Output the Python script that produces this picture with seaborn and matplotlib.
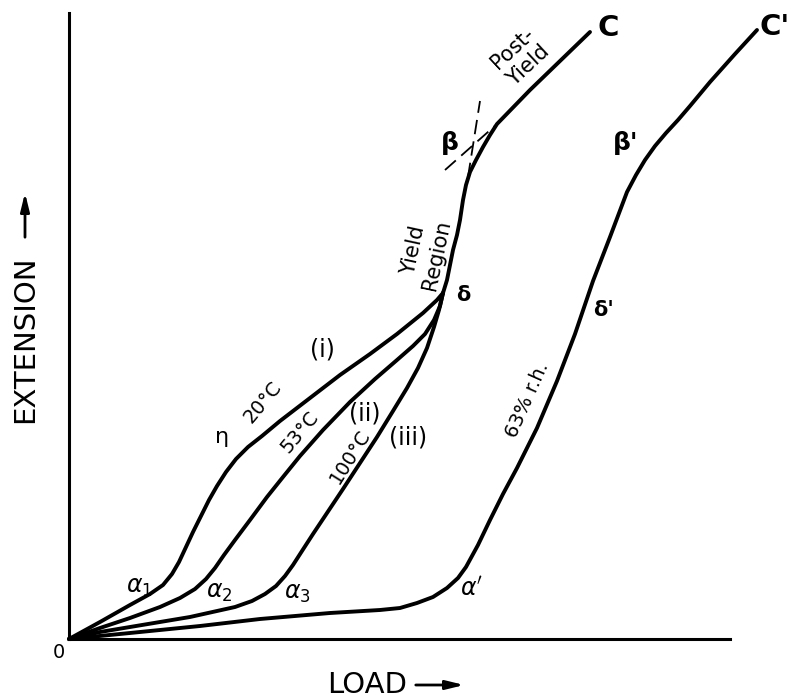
import matplotlib
matplotlib.use("Agg")
import matplotlib.pyplot as plt
import seaborn as sns
import pandas as pd

# ---- data (arbitrary units: load, extension) ----
curve_i_load = [0, 31, 61, 81, 94, 103, 110, 117, 124, 132, 140, 148, 157, 167, 179, 193, 211, 241, 271, 301, 328, 354, 368, 374]
curve_i_ext = [0, 17, 34, 45, 54, 65, 77, 92, 107, 123, 139, 153, 167, 180, 192, 203, 218, 241, 264, 285, 305, 326, 339, 346]

curve_ii_load = [0, 31, 61, 91, 111, 126, 137, 146, 155, 166, 181, 198, 214, 231, 254, 281, 306, 328, 344, 356, 365, 371, 374]
curve_ii_ext = [0, 11, 21, 32, 41, 50, 60, 71, 84, 99, 119, 142, 162, 183, 209, 237, 260, 279, 293, 305, 319, 333, 346]

curve_iii_load = [0, 31, 61, 91, 121, 148, 166, 183, 196, 207, 216, 224, 233, 244, 258, 274, 291, 308, 324, 338, 349, 358, 365, 370, 374]
curve_iii_ext = [0, 7, 12, 17, 22, 28, 32, 38, 45, 53, 63, 74, 88, 105, 126, 150, 176, 202, 228, 251, 271, 291, 312, 329, 346]

common_load = [374, 378, 381, 384, 388, 391, 394, 397, 401, 407, 414, 421, 428, 461, 491, 521]
common_ext = [346, 359, 374, 389, 404, 419, 439, 454, 467, 479, 492, 504, 515, 549, 578, 607]

wet_load = [0, 61, 131, 191, 261, 311, 331, 348, 364, 378, 389, 397, 409, 421, 434, 448, 468, 488, 506, 524, 541, 558, 567, 576, 586, 597, 609, 621, 641, 666, 688]
wet_ext = [0, 6, 13, 20, 26, 29, 31, 36, 42, 51, 61, 72, 94, 119, 145, 171, 211, 258, 305, 358, 402, 447, 464, 479, 493, 506, 519, 533, 557, 585, 609]

tangent_a_load = [376, 428]
tangent_a_ext = [469, 515]
tangent_b_load = [399, 411]
tangent_b_ext = [462, 538]

sns.set_theme(style="white")
plt.rcParams['font.family'] = ['DejaVu Sans']
plt.rcParams['text.color'] = 'black'

fig = plt.figure(figsize=(7.91, 6.98), dpi=100)
ax = fig.add_axes([69 / 791, 59 / 698, 661 / 791, 626 / 698])

LW = 2.8
for xs, ys in [(curve_i_load, curve_i_ext), (curve_ii_load, curve_ii_ext),
               (curve_iii_load, curve_iii_ext), (common_load, common_ext),
               (wet_load, wet_ext)]:
    df = pd.DataFrame({"load": xs, "ext": ys})
    sns.lineplot(data=df, x="load", y="ext", sort=False, estimator=None,
                 color="black", lw=LW, ax=ax, solid_capstyle="round",
                 solid_joinstyle="round")

for xs, ys in [(tangent_a_load, tangent_a_ext), (tangent_b_load, tangent_b_ext)]:
    df = pd.DataFrame({"load": xs, "ext": ys})
    sns.lineplot(data=df, x="load", y="ext", sort=False, estimator=None,
                 color="black", lw=1.3, ax=ax, dashes=False, linestyle=(0, (8, 4)))

for ln in ax.lines:
    ln.set_clip_on(False)

ax.set_xlim(0, 661)
ax.set_ylim(0, 626)
ax.set_xticks([])
ax.set_yticks([])
ax.set_xlabel("")
ax.set_ylabel("")
for s in ["top", "right"]:
    ax.spines[s].set_visible(False)
for s in ["left", "bottom"]:
    ax.spines[s].set_color("black")
    ax.spines[s].set_linewidth(2.2)

# ---- annotations ----
def t(x, y, s, size=15, rot=0, weight="normal"):
    ax.text(x, y, s, fontsize=size, rotation=rot, ha="center", va="center",
            rotation_mode="anchor", fontweight=weight, multialignment="center",
            clip_on=False, color="black")

t(539, 611, "C", size=21, weight="bold")
t(706, 612, "C'", size=21, weight="bold")
t(381, 496, "β", size=18, weight="bold")
t(557, 496, "β'", size=18, weight="bold")
t(394, 344, "δ", size=15, weight="bold")
t(534, 329, "δ'", size=15, weight="bold")
t(451, 582, "Post-\nYield", size=15, rot=43)
t(356, 386, "Yield\nRegion", size=15, rot=78)
t(253, 289, "(i)", size=17)
t(296, 226, "(ii)", size=17)
t(339, 202, "(iii)", size=17)
t(194, 237, "20°C", size=14, rot=50)
t(231, 207, "53°C", size=14, rot=50)
t(281, 182, "100°C", size=14, rot=58)
t(458, 239, "63% r.h.", size=14, rot=66)
t(153, 202, "η", size=16)
t(70, 52, r"$\alpha_1$", size=17)
t(150, 47, r"$\alpha_2$", size=17)
t(228, 46, r"$\alpha_3$", size=17)
t(403, 50, r"$\alpha'$", size=17)
t(-10, -14, "0", size=14)

# axis titles with arrows
fig.text(367 / 791, 13 / 698, "LOAD", fontsize=21, ha="center", va="center",
         color="black")
ax.annotate("", xy=(467, 13), xytext=(413, 13), xycoords="figure pixels",
            textcoords="figure pixels",
            arrowprops=dict(arrowstyle="-|>,head_length=0.9,head_width=0.22",
                            color="black", lw=2))
fig.text(25 / 791, 1 - 339 / 698, "EXTENSION", fontsize=21, ha="center",
         va="center", rotation=90, color="black")
ax.annotate("", xy=(25, 698 - 190), xytext=(25, 698 - 240), xycoords="figure pixels",
            textcoords="figure pixels",
            arrowprops=dict(arrowstyle="-|>,head_length=0.9,head_width=0.22",
                            color="black", lw=2))

fig.savefig("out.png", dpi=100)
